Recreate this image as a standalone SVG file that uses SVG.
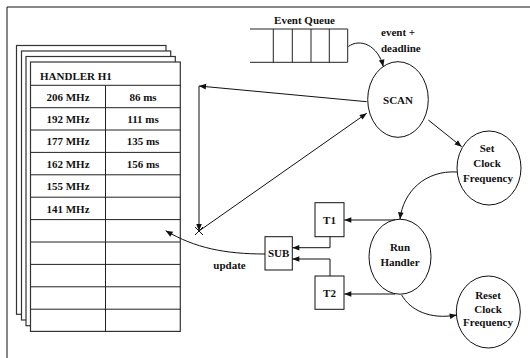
<svg xmlns="http://www.w3.org/2000/svg" width="530" height="358" viewBox="0 0 530 358">
<style>
text{font-family:"Liberation Serif","Times New Roman",serif;font-weight:bold;font-size:11px;fill:#111}
.c{text-anchor:middle}
.s{fill:#fff;stroke:#333;stroke-width:1.2}
.l{fill:none;stroke:#111;stroke-width:1}
.g{stroke:#222;stroke-width:1}
</style>
<defs>
<marker id="a" viewBox="0 0 10 10" refX="10" refY="5" markerWidth="9" markerHeight="7" markerUnits="userSpaceOnUse" orient="auto">
<path d="M0,1 L10,5 L0,9 Z" fill="#111"/>
</marker>
</defs>
<rect width="530" height="358" fill="#fff"/>
<g id="frame"><path d="M7,7 H530 M7,7 V358" class="l" stroke-width="1.3"/></g>
<g id="handler-table">
<rect x="16.5" y="45.5" width="149.5" height="268.8" class="s"/>
<rect x="21.5" y="51" width="149.2" height="269" class="s"/>
<rect x="26" y="56.5" width="149.3" height="269.2" class="s"/>
<rect x="30.5" y="62" width="149.8" height="269.4" class="s"/>
<path class="g" d="M30.5,85.3 H180.3 M30.5,107.7 H180.3 M30.5,130 H180.3 M30.5,152.4 H180.3 M30.5,174.8 H180.3 M30.5,197.2 H180.3 M30.5,219.6 H180.3 M30.5,242 H180.3 M30.5,264.4 H180.3 M30.5,286.8 H180.3 M30.5,309.2 H180.3 M105.5,85.3 V331.4"/>
<text x="40" y="79.5">HANDLER H1</text>
<text class="c" x="68" y="100.5">206 MHz</text><text class="c" x="143" y="100.5">86 ms</text>
<text class="c" x="68" y="122.9">192 MHz</text><text class="c" x="143" y="122.9">111 ms</text>
<text class="c" x="68" y="145.3">177 MHz</text><text class="c" x="143" y="145.3">135 ms</text>
<text class="c" x="68" y="167.7">162 MHz</text><text class="c" x="143" y="167.7">156 ms</text>
<text class="c" x="68" y="190.1">155 MHz</text>
<text class="c" x="68" y="212.5">141 MHz</text>
</g>
<g id="event-queue">
<text class="c" x="304.5" y="23.5">Event Queue</text>
<path class="g" d="M250,29 H347.7 M250,62.3 H347.7 M273.3,29 V62.3 M292.3,29 V62.3 M311,29 V62.3 M329.3,29 V62.3 M347.7,29 V62.3"/>
</g>
<g id="scan">
<ellipse cx="398" cy="99.5" rx="30.3" ry="37.8" class="l"/>
<text class="c" x="398" y="103.5">SCAN</text>
</g>
<g id="set-clock">
<ellipse cx="489" cy="168" rx="32" ry="37" class="l"/>
<text class="c" x="487" y="152">Set</text>
<text class="c" x="487" y="167">Clock</text>
<text class="c" x="488" y="182">Frequency</text>
</g>
<g id="run-handler">
<ellipse cx="400" cy="256.7" rx="31" ry="37.5" class="l"/>
<text class="c" x="400" y="250.5">Run</text>
<text class="c" x="400" y="265.5">Handler</text>
</g>
<g id="reset-clock">
<ellipse cx="488.3" cy="312" rx="32" ry="36" class="l"/>
<text class="c" x="488" y="298.5">Reset</text>
<text class="c" x="488" y="313">Clock</text>
<text class="c" x="488" y="325.5">Frequency</text>
</g>
<g id="t1">
<rect x="315" y="202.7" width="29" height="34" class="l"/>
<text class="c" x="329.5" y="224">T1</text>
</g>
<g id="t2">
<rect x="315" y="276" width="29" height="33.3" class="l"/>
<text class="c" x="329.5" y="297">T2</text>
</g>
<g id="sub">
<rect x="265" y="236.7" width="27.3" height="33.3" class="l"/>
<text class="c" x="278.7" y="257.3">SUB</text>
</g>
<g id="connectors">
<path class="l" d="M348.3,46.5 C360,38 378,45 383.3,66.7" marker-end="url(#a)"/>
<text x="381" y="35.5">event +</text>
<text x="381" y="52">deadline</text>
<path class="l" d="M428.3,120 L461.7,146.7" marker-end="url(#a)"/>
<path class="l" d="M457,172 C425,170 403,192 400,219.3" marker-end="url(#a)"/>
<path class="l" d="M395,220 H344.3" marker-end="url(#a)"/>
<path class="l" d="M395,294 H344.3" marker-end="url(#a)"/>
<path class="l" d="M330,236.7 V247.7 H292.3" marker-end="url(#a)"/>
<path class="l" d="M330,276 V259 H292.3" marker-end="url(#a)"/>
<path class="l" d="M401.7,295 C410,310 430,320 456.7,315" marker-end="url(#a)"/>
<path class="l" d="M265,254 C225,254 195,248 165.7,230.7" marker-end="url(#a)"/>
<text class="c" x="229.5" y="268.5">update</text>
<path class="l" d="M366.7,101.7 L199,86" marker-end="url(#a)"/>
<path class="l" d="M199,86 V231" marker-end="url(#a)"/>
<path class="l" d="M195,227 L203,235 M203,227 L195,235"/>
<path class="l" d="M199,231 L366.7,113.3" marker-end="url(#a)"/>
</g>
</svg>
